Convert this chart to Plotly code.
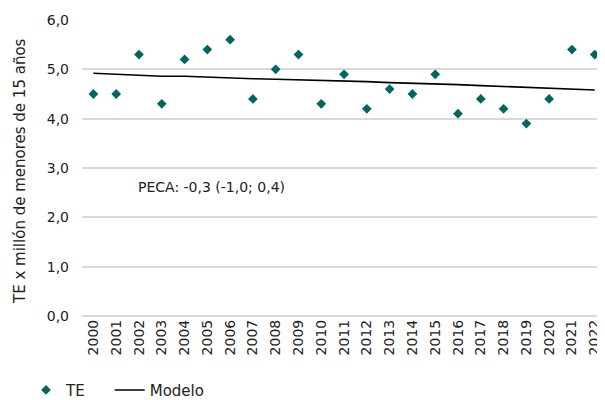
import plotly.graph_objects as go

years = list(range(2000, 2023))
te = [4.5, 4.5, 5.3, 4.3, 5.2, 5.4, 5.6, 4.4, 5.0, 5.3, 4.3, 4.9, 4.2, 4.6, 4.5,
      4.9, 4.1, 4.4, 4.2, 3.9, 4.4, 5.4, 5.3]
modelo = [4.92, 4.90, 4.88, 4.86, 4.86, 4.84, 4.83, 4.81, 4.80, 4.79, 4.78, 4.77,
          4.75, 4.73, 4.72, 4.71, 4.69, 4.67, 4.65, 4.63, 4.61, 4.60, 4.58]
peca_label = "PECA: -0,3 (-1,0; 0,4)"
y_title = "TE x millón de menores de 15 años"

font = "DejaVu Sans"
txt = "#222222"

# page body adds an 8px margin and only ~597px of width is visible
W, H = 589, 392
L, T, B = 74, 12, 84
plot_w = W - L

fig = go.Figure()
fig.add_trace(go.Scatter(
    x=years, y=te, mode="markers", name="TE\u00a0\u00a0\u00a0\u00a0",
    marker=dict(symbol="diamond", size=7.5, color="#00675f"),
))
fig.add_trace(go.Scatter(
    x=years, y=modelo, mode="lines", name="Modelo",
    line=dict(color="#000000", width=1.6),
))

fig.add_annotation(
    x=2005.2, y=2.62, xref="x", yref="y", text=peca_label, showarrow=False,
    font=dict(family=font, size=14, color=txt),
)
fig.add_annotation(
    x=(12 - L) / plot_w, y=0.49, xref="paper", yref="paper",
    text=y_title, showarrow=False, textangle=-90,
    xanchor="center", yanchor="middle",
    font=dict(family=font, size=15, color=txt),
)

fig.update_layout(
    width=W, height=H,
    margin=dict(l=L, r=0, t=T, b=B),
    plot_bgcolor="white", paper_bgcolor="white",
    separators=",.",
    font=dict(family=font, size=13, color=txt),
    showlegend=True,
    legend=dict(
        orientation="h", x=(18 - L) / plot_w, xanchor="left",
        yref="container", y=0.025, yanchor="middle",
        font=dict(family=font, size=15, color=txt),
    ),
    xaxis=dict(
        range=[1999.5, 2022.1], tickvals=years, tickangle=-90,
        showgrid=False, showline=False, ticks="", zeroline=False,
        automargin=False, ticklabeloverflow="allow",
        tickfont=dict(family=font, size=14, color=txt),
    ),
    yaxis=dict(
        range=[0, 6], dtick=1, tickformat=".1f",
        showgrid=True, gridcolor="#d9d9d9", gridwidth=1.5,
        zeroline=True, zerolinecolor="#d9d9d9", zerolinewidth=1.5,
        showline=False, ticks="", ticklabelstandoff=12,
        automargin=False,
        tickfont=dict(family=font, size=14, color=txt),
    ),
)

fig.write_html("out.html")
